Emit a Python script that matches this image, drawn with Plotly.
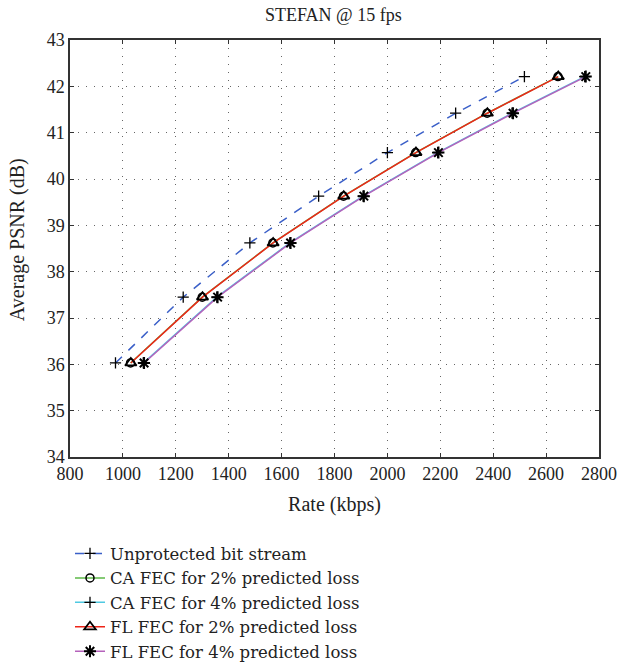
import plotly.graph_objects as go

# Data
psnr = [36.03, 37.45, 38.62, 39.63, 40.57, 41.42, 42.21]
rate_unprotected = [972, 1228, 1480, 1740, 2000, 2258, 2518]
rate_ca_fec_2 = [1029, 1300, 1567, 1834, 2107, 2377, 2645]
rate_ca_fec_4 = [1077, 1355, 1631, 1908, 2190, 2471, 2746]
rate_fl_fec_2 = [1030, 1301, 1568, 1835, 2108, 2378, 2646]
rate_fl_fec_4 = [1080, 1358, 1634, 1911, 2193, 2475, 2750]

x_ticks = list(range(800, 2801, 200))
y_ticks = list(range(34, 44))

FONT = "Liberation Serif"

fig = go.Figure()

def add(name, x, color, symbol, dash="solid", msize=8, mwidth=1.3, lwidth=1.5):
    fig.add_trace(go.Scatter(
        x=x, y=psnr, name=name, mode="lines+markers",
        line=dict(color=color, width=lwidth, dash=dash),
        marker=dict(symbol=symbol, size=msize, color="black",
                    line=dict(color="black", width=mwidth)),
    ))

add("Unprotected bit stream", rate_unprotected, "#3a5fc8", "cross-thin-open", dash="dash", msize=8)
add("CA FEC for 2% predicted loss", rate_ca_fec_2, "#5cb947", "circle-open", msize=8, mwidth=1.5)
add("CA FEC for 4% predicted loss", rate_ca_fec_4, "#4fc9e2", "cross-thin-open", msize=8)
add("FL FEC for 2% predicted loss", rate_fl_fec_2, "#ee2418", "triangle-up-open", msize=10, mwidth=1.8)
add("FL FEC for 4% predicted loss", rate_fl_fec_4, "#b562bb", "asterisk-open", msize=10, mwidth=2)

axis_common = dict(
    showline=True, linecolor="#333333", linewidth=1.5, mirror="ticks",
    ticks="inside", ticklen=4, tickcolor="#333333",
    showgrid=True, gridcolor="#666666", gridwidth=1, griddash="1px,7px",
    zeroline=False,
    tickfont=dict(family=FONT, size=18, color="#222222"),
)

fig.update_layout(
    width=623, height=662,
    margin=dict(l=70, r=24, t=40, b=205, autoexpand=False),
    paper_bgcolor="white", plot_bgcolor="white",
    font=dict(family=FONT, color="#222222"),
    title=dict(text="STEFAN @ 15 fps", x=0.535, xanchor="center",
               y=1 - 15 / 662, yanchor="middle",
               font=dict(family=FONT, size=18, color="#222222")),
    xaxis=dict(range=[800, 2800], tickvals=x_ticks, ticktext=[str(v) for v in x_ticks],
               title=dict(text="Rate (kbps)", font=dict(family=FONT, size=20), standoff=14),
               **axis_common),
    yaxis=dict(range=[34, 43], tickvals=y_ticks, ticktext=[str(v) for v in y_ticks],
               **axis_common),
    annotations=[dict(text="Average PSNR (dB)", textangle=-90, showarrow=False,
                      xref="paper", yref="paper", x=-53 / 529, y=0.52,
                      xanchor="center", yanchor="middle",
                      font=dict(family=FONT, size=20, color="#222222"))],
    legend=dict(x=0.0, y=-0.19, xanchor="left", yanchor="top",
                font=dict(family="DejaVu Serif", size=16.5, color="#222222"),
                bgcolor="rgba(0,0,0,0)", tracegroupgap=0, itemwidth=30),
    showlegend=True,
)

fig.write_html("out.html")
